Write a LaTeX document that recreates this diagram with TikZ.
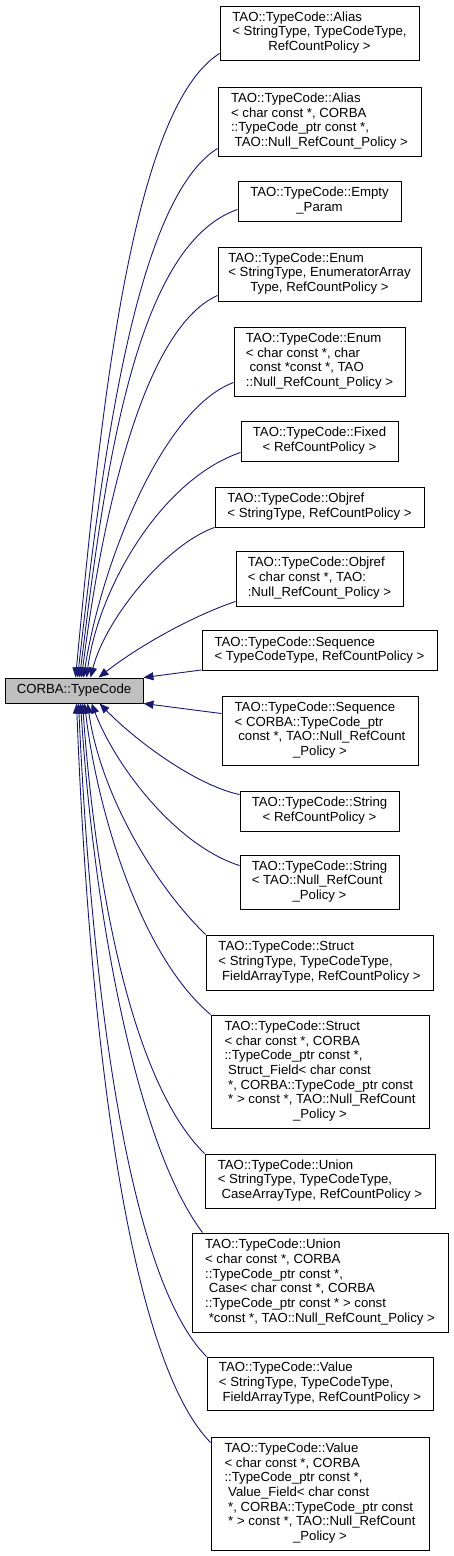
\documentclass[tikz,border=0pt]{standalone}
\usepackage{fontspec}
\setmainfont{Liberation Sans}
\usetikzlibrary{arrows.meta,calc}
\definecolor{edgeblue}{HTML}{191970}
\definecolor{rootgrey}{HTML}{BFBFBF}
\newcommand\dxlast[1]{\multicolumn{1}{@{}c@{}}{#1}}
\newcommand\dxlines[1]{\begin{tabular}{@{}l@{}}#1\end{tabular}}
\begin{document}
\begin{tikzpicture}[x=1pt,y=-1pt,
  box/.style={draw=black,line width=0.9pt,inner sep=0pt,font=\fontsize{13.2}{14.7}\selectfont},
  root/.style={box,fill=rootgrey},
  edge/.style={draw=edgeblue,line width=0.9pt,-{Triangle[length=10pt,width=8pt]}}]
\useasboundingbox (0,0) rectangle (453,1556);

\node[root,minimum width=138pt,minimum height=25pt] (corba) at (74,690.5) {CORBA::TypeCode};

\node[box,minimum width=199pt,minimum height=54pt] (b1) at (319.5,33)
 {\dxlines{TAO::TypeCode::Alias\\ < StringType, TypeCodeType,\\ \dxlast{RefCountPolicy >}}};
\node[box,minimum width=203pt,minimum height=69pt] (b2) at (319.5,121.5)
 {\dxlines{TAO::TypeCode::Alias\\ < char const *, CORBA\\ ::TypeCode\_ptr const *,\\ \dxlast{\ TAO::Null\_RefCount\_Policy >}}};
\node[box,minimum width=163pt,minimum height=40pt] (b3) at (319.5,201)
 {\dxlines{TAO::TypeCode::Empty\\ \dxlast{\_Param}}};
\node[box,minimum width=203pt,minimum height=54pt] (b4) at (319.5,274)
 {\dxlines{TAO::TypeCode::Enum\\ < StringType, EnumeratorArray\\ \dxlast{Type, RefCountPolicy >}}};
\node[box,minimum width=171pt,minimum height=69pt] (b5) at (319.5,361.5)
 {\dxlines{TAO::TypeCode::Enum\\ < char const *, char\\ \ const *const *, TAO\\ \dxlast{::Null\_RefCount\_Policy >}}};
\node[box,minimum width=157pt,minimum height=40pt] (b6) at (319.5,441)
 {\dxlines{TAO::TypeCode::Fixed\\ \dxlast{< RefCountPolicy >}}};
\node[box,minimum width=209pt,minimum height=40pt] (b7) at (319.5,507)
 {\dxlines{TAO::TypeCode::Objref\\ \dxlast{< StringType, RefCountPolicy >}}};
\node[box,minimum width=167pt,minimum height=55pt] (b8) at (319.5,578.5)
 {\dxlines{TAO::TypeCode::Objref\\ < char const *, TAO:\\ \dxlast{:Null\_RefCount\_Policy >}}};
\node[box,minimum width=235pt,minimum height=40pt] (b9) at (319.5,650.5)
 {\dxlines{TAO::TypeCode::Sequence\\ \dxlast{< TypeCodeType, RefCountPolicy >}}};
\node[box,minimum width=196pt,minimum height=69pt] (b10) at (320,730.5)
 {\dxlines{TAO::TypeCode::Sequence\\ < CORBA::TypeCode\_ptr\\ \ const *, TAO::Null\_RefCount\\ \dxlast{\_Policy >}}};
\node[box,minimum width=159pt,minimum height=40pt] (b11) at (319.5,811)
 {\dxlines{TAO::TypeCode::String\\ \dxlast{< RefCountPolicy >}}};
\node[box,minimum width=159pt,minimum height=54pt] (b12) at (319.5,882)
 {\dxlines{TAO::TypeCode::String\\ < TAO::Null\_RefCount\\ \dxlast{\_Policy >}}};
\node[box,minimum width=227pt,minimum height=55pt] (b13) at (319.5,962.5)
 {\dxlines{TAO::TypeCode::Struct\\ < StringType, TypeCodeType,\\ \dxlast{\ FieldArrayType, RefCountPolicy >}}};
\node[box,minimum width=218pt,minimum height=113pt] (b14) at (320,1071.5)
 {\dxlines{TAO::TypeCode::Struct\\ < char const *, CORBA\\ ::TypeCode\_ptr const *,\\ \ Struct\_Field< char const\\ \ *, CORBA::TypeCode\_ptr const\\ \ * > const *, TAO::Null\_RefCount\\ \dxlast{\_Policy >}}};
\node[box,minimum width=230pt,minimum height=54pt] (b15) at (320,1181)
 {\dxlines{TAO::TypeCode::Union\\ < StringType, TypeCodeType,\\ \dxlast{\ CaseArrayType, RefCountPolicy >}}};
\node[box,minimum width=256pt,minimum height=99pt] (b16) at (320,1282.5)
 {\dxlines{TAO::TypeCode::Union\\ < char const *, CORBA\\ ::TypeCode\_ptr const *,\\ \ Case< char const *, CORBA\\ ::TypeCode\_ptr const * > const\\ \dxlast{\ *const *, TAO::Null\_RefCount\_Policy >}}};
\node[box,minimum width=226pt,minimum height=53pt] (b17) at (320,1383.5)
 {\dxlines{TAO::TypeCode::Value\\ < StringType, TypeCodeType,\\ \dxlast{\ FieldArrayType, RefCountPolicy >}}};
\node[box,minimum width=218pt,minimum height=113pt] (b18) at (320,1493.5)
 {\dxlines{TAO::TypeCode::Value\\ < char const *, CORBA\\ ::TypeCode\_ptr const *,\\ \ Value\_Field< char const\\ \ *, CORBA::TypeCode\_ptr const\\ \ * > const *, TAO::Null\_RefCount\\ \dxlast{\_Policy >}}};

% edges from the classes above
\draw[edge] ($(b1.south west)+(0,-7)$) .. controls (130,110) and (100,420) .. ($(corba.north west)+(71,0)$);
\draw[edge] ($(b2.south west)+(0,-8)$) .. controls (135,200) and (102,460) .. ($(corba.north west)+(73,0)$);
\draw[edge] ($(b3.south west)+(0,-12)$) .. controls (135,245) and (105,470) .. ($(corba.north west)+(75,0)$);
\draw[edge] ($(b4.south west)+(0,-6)$) .. controls (140,330) and (100,530) .. ($(corba.north west)+(77,0)$);
\draw[edge] ($(b5.south west)+(0,-14)$) .. controls (160,410) and (100,570) .. ($(corba.north west)+(79,0)$);
\draw[edge] ($(b6.south west)+(0,-9)$) .. controls (160,480) and (98,590) .. ($(corba.north west)+(82,0)$);
\draw[edge] (b7.south west) .. controls (165,545) and (105,620) .. ($(corba.north west)+(86,0)$);
\draw[edge] ($(b8.south west)+(0,-5)$) .. controls (195,615) and (140,645) .. ($(corba.north west)+(94,0)$);
\draw[edge] ($(b9.south west)+(0,-1)$) -- (corba.north east);
% edges from the classes below
\draw[edge] ($(b10.north west)+(0,18)$) -- (corba.south east);
\draw[edge] ($(b11.north west)+(0,4)$) .. controls (195,785) and (135,740) .. ($(corba.south west)+(95,0)$);
\draw[edge] ($(b12.north west)+(0,11)$) .. controls (175,845) and (115,765) .. ($(corba.south west)+(87,0)$);
\draw[edge] (b13.north west) .. controls (150,880) and (100,790) .. ($(corba.south west)+(83,0)$);
\draw[edge] (b14.north west) .. controls (140,955) and (97,810) .. ($(corba.south west)+(80,0)$);
\draw[edge] (b15.north west) .. controls (130,1080) and (95,880) .. ($(corba.south west)+(78,0)$);
\draw[edge] ($(b16.north west)+(11,0)$) .. controls (140,1150) and (95,930) .. ($(corba.south west)+(76,0)$);
\draw[edge] (b17.north west) .. controls (130,1280) and (92,1000) .. ($(corba.south west)+(74,0)$);
\draw[edge] ($(b18.north west)+(0,6)$) .. controls (130,1360) and (90,1050) .. ($(corba.south west)+(72,0)$);
\end{tikzpicture}
\end{document}
